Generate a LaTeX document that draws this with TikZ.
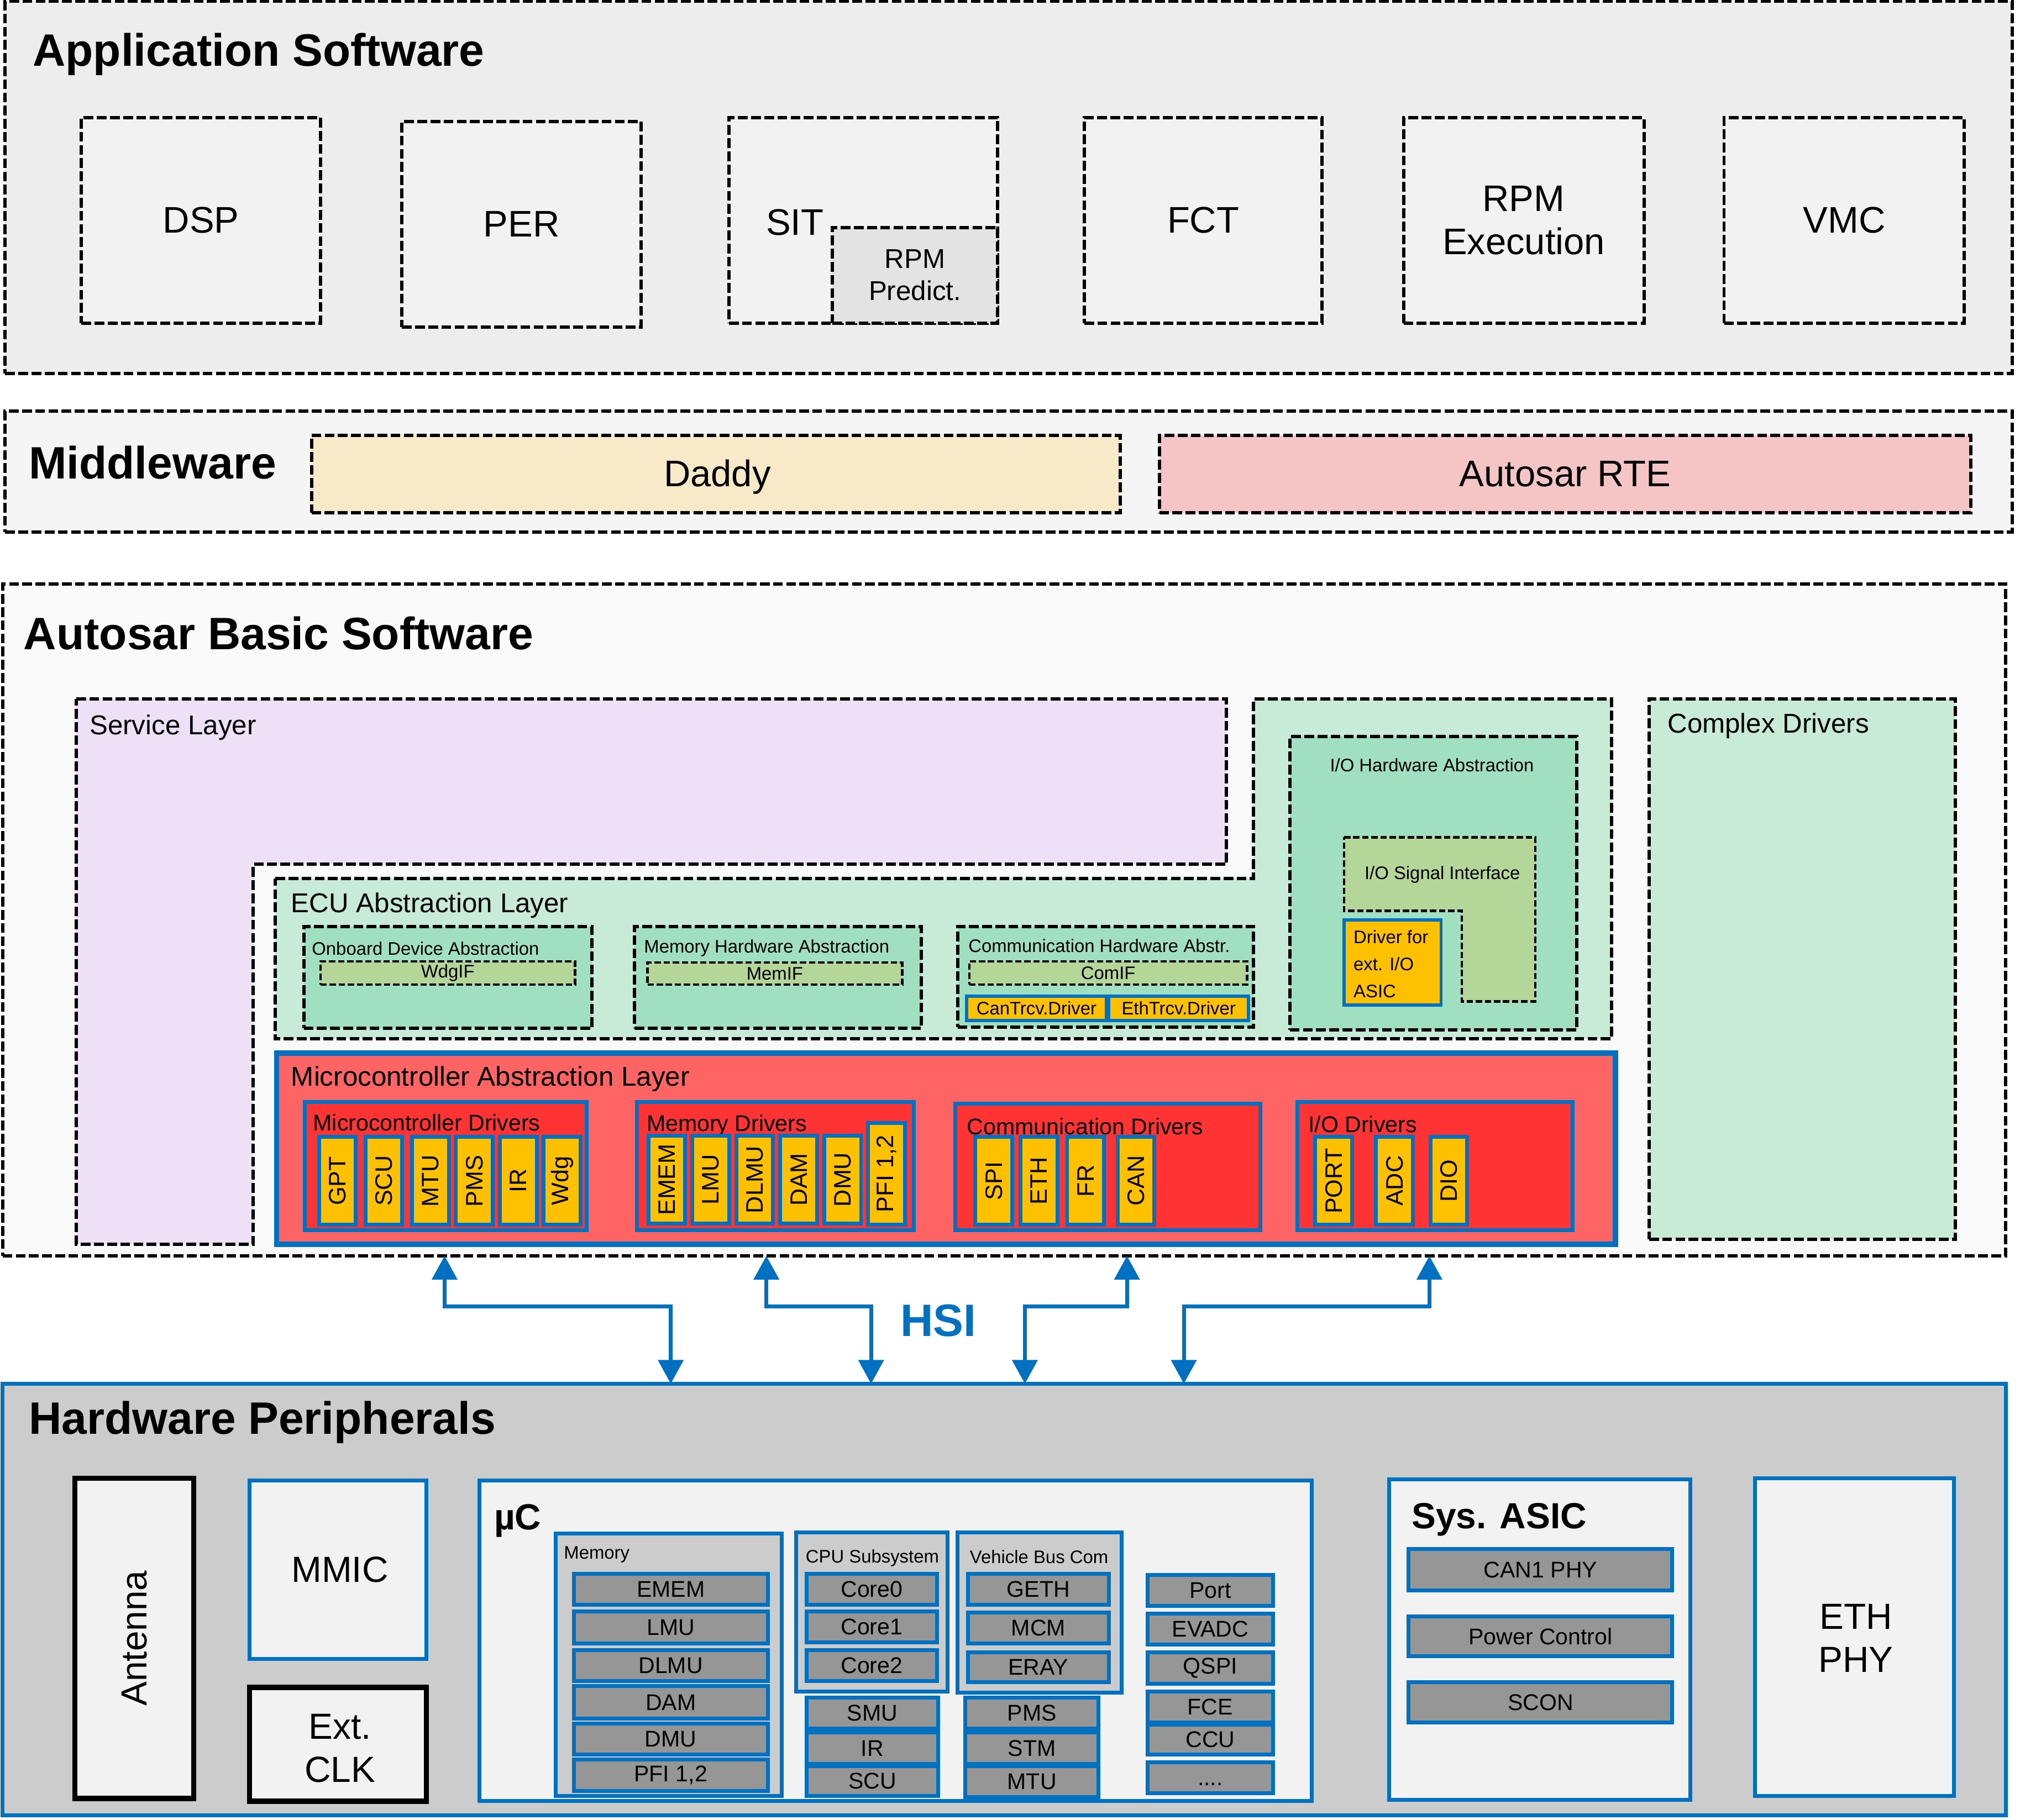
\documentclass[tikz,border=0pt]{standalone}
\usepackage{fontspec}
\setmainfont{Liberation Sans}
\usetikzlibrary{fit, arrows.meta}

\definecolor{appgray}{HTML}{EDEDED}
\definecolor{boxgray}{HTML}{F2F2F2}
\definecolor{predgray}{HTML}{E3E3E3}
\definecolor{mwgray}{HTML}{F5F5F5}
\definecolor{daddycol}{HTML}{F8EAC8}
\definecolor{rtecol}{HTML}{F5C4C4}
\definecolor{bswgray}{HTML}{FAFAFA}
\definecolor{servcol}{HTML}{EEE0F6}
\definecolor{ecucol}{HTML}{C8EBD8}
\definecolor{hwabscol}{HTML}{A0DFC0}
\definecolor{ifcol}{HTML}{B4D698}
\definecolor{drvyellow}{HTML}{FFC000}
\definecolor{hsiblue}{HTML}{0070C0}
\definecolor{mcalred}{HTML}{FF6464}
\definecolor{grpred}{HTML}{FF3333}
\definecolor{hwgray}{HTML}{CCCCCC}
\definecolor{itemgray}{HTML}{969696}

\tikzset{
  layerbox/.style={draw, line width=1.45pt, dash pattern=on 4.3pt off 1.5pt},
  swbox/.style={layerbox, fill=boxgray},
  swtext/.style={align=center, font=\fontsize{16.3}{18.9}\selectfont},
  ifbox/.style={draw, line width=1.1pt, dash pattern=on 2.8pt off 1.2pt, fill=ifcol},
  bluebox/.style={draw=hsiblue, line width=1.7pt},
  ybox/.style={bluebox, line width=1.4pt, fill=drvyellow},
  grpbox/.style={bluebox, fill=grpred},
  drvbox/.style={bluebox, fill=drvyellow, rotate=90, minimum width=1.36cm, minimum height=0.57cm, font=\fontsize{10.5}{12}\selectfont},
  hwbox/.style={bluebox, fill=boxgray},
  hwtext/.style={align=center, font=\fontsize{16}{18.9}\selectfont},
  subbox/.style={bluebox, fill=hwgray},
  itembox/.style={bluebox, fill=itemgray},
  itemtext/.style={font=\fontsize{10}{12}\selectfont},
  ltitle/.style={anchor=west, font=\bfseries\fontsize{20}{24}\selectfont},
  lmid/.style={anchor=west, font=\fontsize{12}{14.4}\selectfont},
  lgrp/.style={anchor=west, font=\fontsize{10}{12}\selectfont},
  lsmall/.style={font=\fontsize{8}{11.9}\selectfont},
  hsi/.style={draw=hsiblue, line width=1.7pt, {Triangle[width=11pt,length=10.5pt]}-{Triangle[width=11pt,length=10.5pt]}}
}

\begin{document}
\begin{tikzpicture}[x=0.02cm, y=-0.02cm, every node/.style={inner sep=0pt}]
\useasboundingbox (0,0) rectangle (1563,1408.6);

\node[layerbox, fill=appgray, fit={(4,1) (1557,289)}] (app) {};
\node[ltitle] (app-t) at (25,42) {Application Software};
\node[swbox, fit={(63,91) (248,250)}] (dsp) {};
\node[swtext] (dsp-t) at (dsp) {DSP};
\node[swbox, fit={(311,94) (496,253)}] (per) {};
\node[swtext] (per-t) at (per) {PER};
\node[swbox, fit={(564,91) (772,250)}] (sit) {};
\node[swtext] (sit-t) at (615,172) {SIT};
\node[swbox, fill=predgray, fit={(644,176) (772,250)}] (rpmp) {};
\node[align=center, font=\fontsize{12}{14.2}\selectfont] (rpmp-t) at (rpmp) {RPM\\Predict.};
\node[swbox, fit={(839,91) (1023,250)}] (fct) {};
\node[swtext] (fct-t) at (fct) {FCT};
\node[swbox, fit={(1086,91) (1272,250)}] (rpme) {};
\node[swtext] (rpme-t) at (rpme) {RPM\\Execution};
\node[swbox, fit={(1334,91) (1520,250)}] (vmc) {};
\node[swtext] (vmc-t) at (vmc) {VMC};

\node[layerbox, fill=mwgray, fit={(4,318) (1557,412)}] (mw) {};
\node[ltitle] (mw-t) at (22,358) {Middleware};
\node[swbox, fill=daddycol, fit={(241,337) (867,397)}] (daddy) {};
\node[swtext] (daddy-t) at (555,369) {Daddy};
\node[swbox, fill=rtecol, fit={(897,337) (1525,397)}] (rte) {};
\node[swtext] (rte-t) at (rte) {Autosar RTE};

\node[layerbox, fill=bswgray, fit={(2,452) (1552,972)}] (bsw) {};
\node[ltitle] (bsw-t) at (18,490) {Autosar Basic Software};
\filldraw[layerbox, fill=servcol] (59,541) -- (949,541) -- (949,669) -- (196,669) -- (196,963) -- (59,963) -- cycle;
\node[lmid] (serv-t) at (69,563) {Service Layer};
\filldraw[layerbox, fill=ecucol] (213,680) -- (970,680) -- (970,541) -- (1247,541) -- (1247,804) -- (213,804) -- cycle;
\node[lmid] (ecu-t) at (225,701) {ECU Abstraction Layer};

\node[layerbox, fill=hwabscol, fit={(235,717) (458,796)}] (oda) {};
\node[lsmall, anchor=west] (oda-t) at (241,734) {Onboard Device Abstraction};
\node[ifbox, fit={(248,744) (445,762)}] (wdgif) {};
\node[lsmall] (wdgif-t) at (wdgif) {WdgIF};
\node[layerbox, fill=hwabscol, fit={(491,717) (713,796)}] (mha) {};
\node[lsmall, anchor=west] (mha-t) at (498,734) {Memory Hardware Abstraction};
\node[ifbox, fit={(501,745) (698,762)}] (memif) {};
\node[lsmall] (memif-t) at (memif) {MemIF};
\node[layerbox, fill=hwabscol, fit={(741,717) (970,795)}] (cha) {};
\node[lsmall, anchor=west] (cha-t) at (749,732) {Communication Hardware Abstr.};
\node[ifbox, fit={(750,744) (965,762)}] (comif) {};
\node[lsmall] (comif-t) at (comif) {ComIF};
\node[ybox, fit={(748,771) (856,790)}] (cantrcv) {};
\node[lsmall] (cantrcv-t) at (cantrcv) {CanTrcv.Driver};
\node[ybox, fit={(858,771) (966,790)}] (ethtrcv) {};
\node[lsmall] (ethtrcv-t) at (ethtrcv) {EthTrcv.Driver};

\node[layerbox, fill=hwabscol, fit={(998,570) (1220,797)}] (ioha) {};
\node[lsmall] (ioha-t) at (1108,592) {I/O Hardware Abstraction};
\filldraw[ifbox] (1040,648) -- (1188,648) -- (1188,775) -- (1131,775) -- (1131,705) -- (1040,705) -- cycle;
\node[lsmall] (iosi-t) at (1116,677) {I/O Signal Interface};
\node[ybox, fit={(1040,712) (1115,778)}] (extio) {};
\node[lsmall, align=left, anchor=west] (extio-t) at (1047,746) {Driver for\\ext. I/O\\ASIC};

\node[layerbox, fill=ecucol, fit={(1276,541) (1513,959)}] (cdrv) {};
\node[lmid] (cdrv-t) at (1290,562) {Complex Drivers};

\node[bluebox, line width=2.4pt, fill=mcalred, fit={(214,815) (1250,963)}] (mcal) {};
\node[lmid] (mcal-t) at (225,835) {Microcontroller Abstraction Layer};

\node[grpbox, fit={(236,853) (454,952)}] (mcd) {};
\node[lgrp] (mcd-t) at (242,869) {Microcontroller Drivers};
\node[drvbox] (gpt) at (261,914) {GPT};
\node[drvbox] (scu) at (297,914) {SCU};
\node[drvbox] (mtu) at (333,914) {MTU};
\node[drvbox] (pms) at (367,914) {PMS};
\node[drvbox] (ir) at (401,914) {IR};
\node[drvbox] (wdg) at (435,914) {Wdg};

\node[grpbox, fit={(493,853) (707,952)}] (memd) {};
\node[lgrp] (memd-t) at (500,871) {Memory Drivers};
\node[drvbox] (emem) at (516,913) {EMEM};
\node[drvbox] (lmu) at (550,913) {LMU};
\node[drvbox] (dlmu) at (584,913) {DLMU};
\node[drvbox] (dam) at (618,913) {DAM};
\node[drvbox] (dmu) at (652,913) {DMU};
\node[drvbox, minimum width=1.58cm] (pfi) at (686,908.5) {PFI 1,2};

\node[grpbox, fit={(739,854) (975,952)}] (comd) {};
\node[lgrp] (comd-t) at (748,872) {Communication Drivers};
\node[drvbox] (spi) at (769,914) {SPI};
\node[drvbox] (eth) at (804,914) {ETH};
\node[drvbox] (fr) at (840,914) {FR};
\node[drvbox] (can) at (879,914) {CAN};

\node[grpbox, fit={(1004,853) (1217,952)}] (iod) {};
\node[lgrp] (iod-t) at (1012,870) {I/O Drivers};
\node[drvbox] (port) at (1032,914) {PORT};
\node[drvbox] (adc) at (1079,914) {ADC};
\node[drvbox] (dio) at (1121,914) {DIO};

\node[bluebox, fill=hwgray, fit={(2,1071) (1552,1405)}] (hw) {};
\node[ltitle] (hw-t) at (22,1101) {Hardware Peripherals};

\coordinate (h1t) at (344,972);
\coordinate (h1b) at (519,1071);
\coordinate (h2t) at (593,972);
\coordinate (h2b) at (674,1071);
\coordinate (h3t) at (872,972);
\coordinate (h3b) at (793,1071);
\coordinate (h4t) at (1106,972);
\coordinate (h4b) at (916,1071);
\draw[hsi] (h1t) -- ++(0,39) -| (h1b);
\draw[hsi] (h2t) -- ++(0,39) -| (h2b);
\draw[hsi] (h3t) -- ++(0,39) -| (h3b);
\draw[hsi] (h4t) -- ++(0,39) -| (h4b);
\node[text=hsiblue, font=\bfseries\fontsize{20}{24}\selectfont] (hsi-t) at (726,1022) {HSI};

\node[draw, line width=2.3pt, fill=boxgray, rotate=90, minimum width=4.96cm, minimum height=1.84cm, font=\fontsize{16}{19}\selectfont] (ant) at (104,1268) {Antenna};
\node[hwbox, fit={(193,1146) (330,1284)}] (mmic) {};
\node[hwtext] (mmic-t) at (263,1215) {MMIC};
\node[hwbox, draw=black, line width=2.3pt, fit={(193,1306) (330,1394)}] (clk) {};
\node[hwtext] (clk-t) at (263,1353) {Ext.\\CLK};

\node[hwbox, fit={(371,1146) (1015,1394)}] (uc) {};
\node[anchor=west, font=\bfseries\fontsize{16}{19}\selectfont] (uc-t) at (382,1177) {µC};

\node[subbox, fit={(430,1187) (605,1390)}] (mem) {};
\node[lsmall, anchor=west] (mem-t) at (436,1203) {Memory};
\node[itembox, fit={(444,1218) (594,1242)}] (hw-emem) {};
\node[itemtext] (hw-emem-t) at (hw-emem) {EMEM};
\node[itembox, fit={(444,1247) (594,1272)}] (hw-lmu) {};
\node[itemtext] (hw-lmu-t) at (hw-lmu) {LMU};
\node[itembox, fit={(444,1277) (594,1301)}] (hw-dlmu) {};
\node[itemtext] (hw-dlmu-t) at (hw-dlmu) {DLMU};
\node[itembox, fit={(444,1305) (594,1330)}] (hw-dam) {};
\node[itemtext] (hw-dam-t) at (hw-dam) {DAM};
\node[itembox, fit={(444,1334) (594,1358)}] (hw-dmu) {};
\node[itemtext] (hw-dmu-t) at (hw-dmu) {DMU};
\node[itembox, fit={(444,1362) (594,1386)}] (hw-pfi) {};
\node[itemtext] (hw-pfi-t) at (hw-pfi) {PFI 1,2};

\node[subbox, fit={(616,1186) (733,1309)}] (cpu) {};
\node[lsmall] (cpu-t) at (675,1206) {CPU Subsystem};
\node[itembox, fit={(624,1218) (725,1242)}] (core0) {};
\node[itemtext] (core0-t) at (core0) {Core0};
\node[itembox, fit={(624,1247) (725,1271)}] (core1) {};
\node[itemtext] (core1-t) at (core1) {Core1};
\node[itembox, fit={(624,1277) (725,1301)}] (core2) {};
\node[itemtext] (core2-t) at (core2) {Core2};
\node[itembox, fit={(624,1314) (726,1338)}] (hw-smu) {};
\node[itemtext] (hw-smu-t) at (hw-smu) {SMU};
\node[itembox, fit={(624,1341) (726,1365)}] (hw-ir) {};
\node[itemtext] (hw-ir-t) at (hw-ir) {IR};
\node[itembox, fit={(624,1367) (726,1390)}] (hw-scu) {};
\node[itemtext] (hw-scu-t) at (hw-scu) {SCU};

\node[subbox, fit={(741,1186) (868,1310)}] (vbc) {};
\node[lsmall] (vbc-t) at (804,1205) {Vehicle Bus Com};
\node[itembox, fit={(749,1218) (858,1242)}] (geth) {};
\node[itemtext] (geth-t) at (geth) {GETH};
\node[itembox, fit={(749,1248) (858,1272)}] (mcm) {};
\node[itemtext] (mcm-t) at (mcm) {MCM};
\node[itembox, fit={(749,1279) (858,1302)}] (eray) {};
\node[itemtext] (eray-t) at (eray) {ERAY};
\node[itembox, fit={(747,1314) (850,1338)}] (hw-pms) {};
\node[itemtext] (hw-pms-t) at (hw-pms) {PMS};
\node[itembox, fit={(747,1341) (850,1365)}] (stm) {};
\node[itemtext] (stm-t) at (stm) {STM};
\node[itembox, fit={(747,1367) (850,1391)}] (hw-mtu) {};
\node[itemtext] (hw-mtu-t) at (hw-mtu) {MTU};

\node[itembox, fit={(888,1219) (985,1243)}] (hw-port) {};
\node[itemtext] (hw-port-t) at (hw-port) {Port};
\node[itembox, fit={(888,1249) (985,1273)}] (evadc) {};
\node[itemtext] (evadc-t) at (evadc) {EVADC};
\node[itembox, fit={(888,1279) (985,1303)}] (qspi) {};
\node[itemtext] (qspi-t) at (qspi) {QSPI};
\node[itembox, fit={(888,1309) (985,1333)}] (fce) {};
\node[itemtext] (fce-t) at (fce) {FCE};
\node[itembox, fit={(888,1335) (985,1358)}] (ccu) {};
\node[itemtext] (ccu-t) at (ccu) {CCU};
\node[itembox, fit={(888,1364) (985,1388)}] (more) {};
\node[itemtext, anchor=base] (more-t) at (936.5,1382) {....};

\node[hwbox, fit={(1075,1145) (1308,1393)}] (asic) {};
\node[anchor=west, font=\bfseries\fontsize{16}{19}\selectfont] (asic-t) at (1092,1176) {Sys. ASIC};
\node[itembox, fit={(1090,1199) (1294,1231)}] (can1) {};
\node[itemtext] (can1-t) at (can1) {CAN1 PHY};
\node[itembox, fit={(1090,1251) (1294,1282)}] (pwr) {};
\node[itemtext] (pwr-t) at (pwr) {Power Control};
\node[itembox, fit={(1090,1302) (1294,1333)}] (scon) {};
\node[itemtext] (scon-t) at (scon) {SCON};

\node[hwbox, fit={(1358,1144) (1512,1390)}] (ethphy) {};
\node[hwtext] (ethphy-t) at (1436,1268) {ETH\\PHY};
\end{tikzpicture}
\end{document}
